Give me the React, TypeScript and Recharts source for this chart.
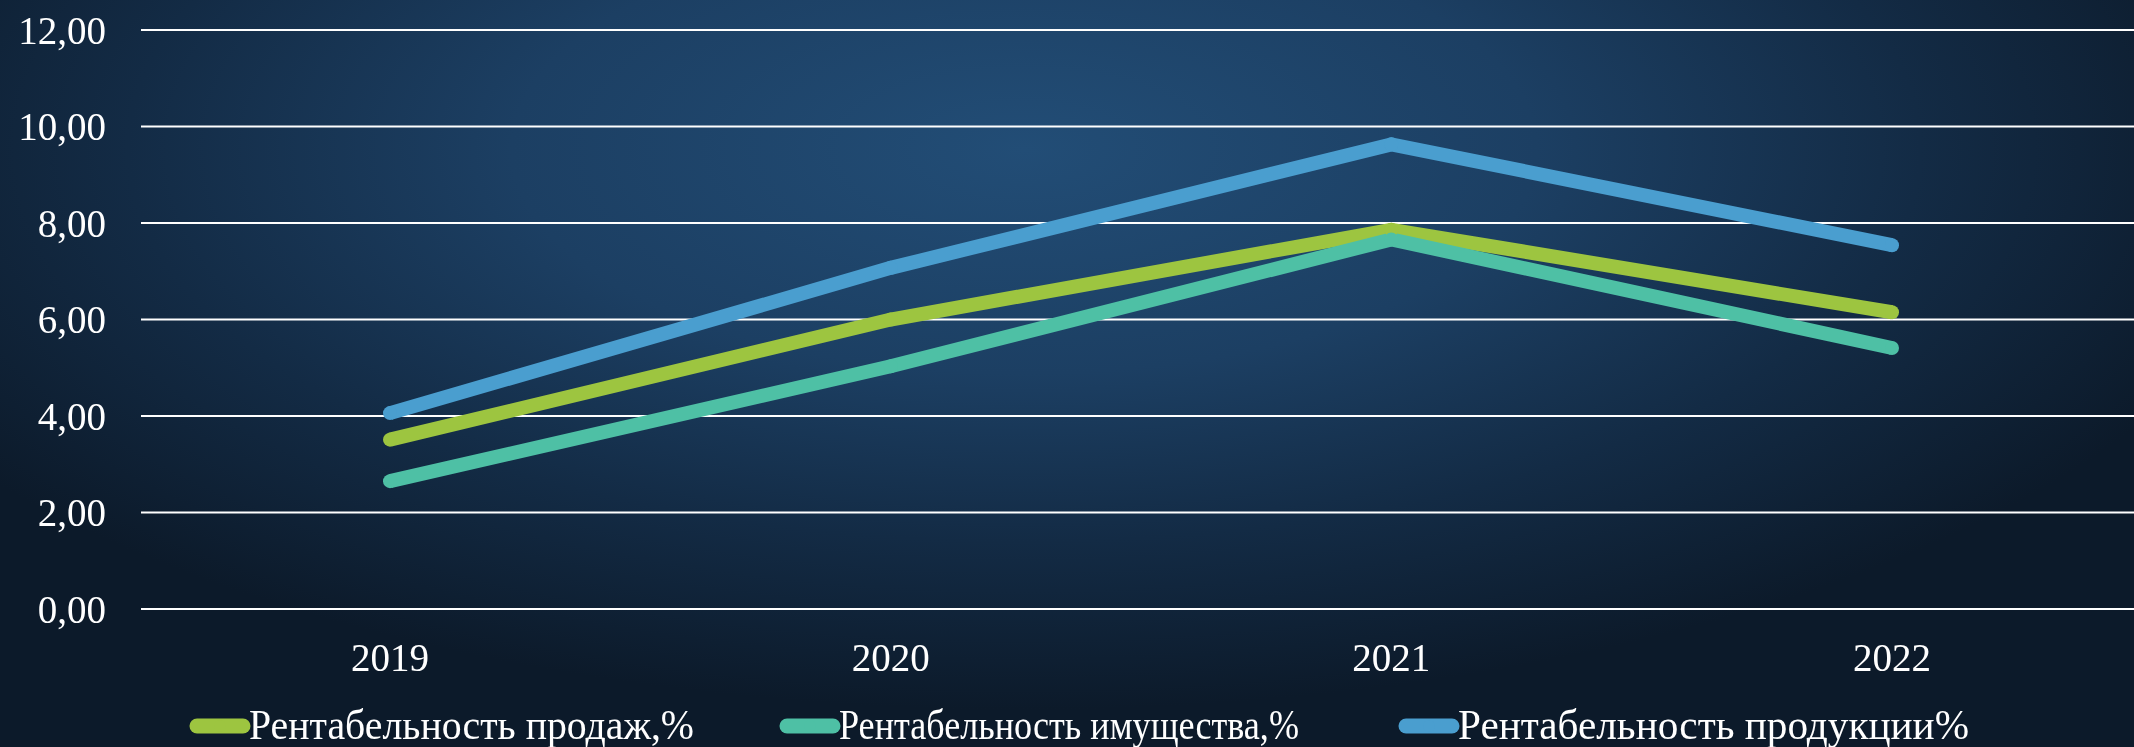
import React from 'react';
import { LineChart, Line, XAxis, YAxis, CartesianGrid, Legend } from 'recharts';

const years = ['2019', '2020', '2021', '2022'];
const salesProfit = [3.51, 6.0, 7.86, 6.15];
const assetProfit = [2.65, 5.03, 7.66, 5.41];
const productProfit = [4.06, 7.07, 9.63, 7.54];
const yTicks = [0, 2, 4, 6, 8, 10, 12];

const seriesNames = {
  sales: 'Рентабельность продаж,%',
  assets: 'Рентабельность имущества,%',
  products: 'Рентабельность продукции%',
};

const colors = {
  sales: '#9dc540',
  assets: '#4ec0a5',
  products: '#4a9ecf',
};

const data = years.map((year, i) => ({
  year,
  sales: salesProfit[i],
  assets: assetProfit[i],
  products: productProfit[i],
}));

const fontFamily = '"Liberation Serif", "Times New Roman", serif';

// legend items: swatch start x and text width (text is drawn a bit condensed)
const legendItems = [
  { key: 'sales', x: 190, textWidth: 445 },
  { key: 'assets', x: 780, textWidth: 460 },
  { key: 'products', x: 1399, textWidth: 511 },
] as const;

function CustomLegend() {
  return (
    <svg width={2134} height={48} style={{ display: 'block' }}>
      {legendItems.map((item) => (
        <g key={item.key}>
          <line
            x1={item.x + 7}
            x2={item.x + 53}
            y1={27}
            y2={27}
            stroke={colors[item.key]}
            strokeWidth={15}
            strokeLinecap="round"
          />
          <circle cx={item.x + 30} cy={27} r={6} fill={colors[item.key]} />
          <text
            x={item.x + 59}
            y={40}
            fill="#ffffff"
            fontSize={42}
            fontFamily={fontFamily}
            textLength={item.textWidth}
            lengthAdjust="spacingAndGlyphs"
          >
            {seriesNames[item.key]}
          </text>
        </g>
      ))}
    </svg>
  );
}

export default function App() {
  return (
    <div
      style={{
        position: 'fixed',
        left: 0,
        top: 0,
        width: 2134,
        height: 747,
        background:
          'radial-gradient(ellipse 60% 75% at 48% 20%, #224d76 0%, #1c3f63 40%, #132b45 70%, #0c1a2a 100%)',
      }}
    >
      <LineChart
        width={2134}
        height={747}
        data={data}
        margin={{ top: 30, right: 0, bottom: 0, left: 0 }}
      >
        <CartesianGrid vertical={false} stroke="#ffffff" strokeWidth={2} />
        <XAxis
          dataKey="year"
          axisLine={false}
          tickLine={false}
          tickSize={0}
          tickMargin={34}
          height={90}
          padding={{ left: 249, right: 242 }}
          tick={{ fill: '#ffffff', fontSize: 39, fontFamily }}
        />
        <YAxis
          domain={[0, 12]}
          ticks={yTicks}
          width={141}
          axisLine={false}
          tickLine={false}
          tickSize={0}
          tickMargin={35}
          tickFormatter={(v: number) => v.toFixed(2).replace('.', ',')}
          tick={{ fill: '#ffffff', fontSize: 39, fontFamily }}
        />
        <Legend verticalAlign="bottom" height={48} content={() => <CustomLegend />} />
        <Line
          dataKey="sales"
          name={seriesNames.sales}
          type="linear"
          stroke={colors.sales}
          strokeWidth={14}
          dot={{ r: 7, fill: colors.sales, stroke: 'none' }}
          isAnimationActive={false}
        />
        <Line
          dataKey="assets"
          name={seriesNames.assets}
          type="linear"
          stroke={colors.assets}
          strokeWidth={14}
          dot={{ r: 7, fill: colors.assets, stroke: 'none' }}
          isAnimationActive={false}
        />
        <Line
          dataKey="products"
          name={seriesNames.products}
          type="linear"
          stroke={colors.products}
          strokeWidth={14}
          dot={{ r: 7, fill: colors.products, stroke: 'none' }}
          isAnimationActive={false}
        />
      </LineChart>
    </div>
  );
}
